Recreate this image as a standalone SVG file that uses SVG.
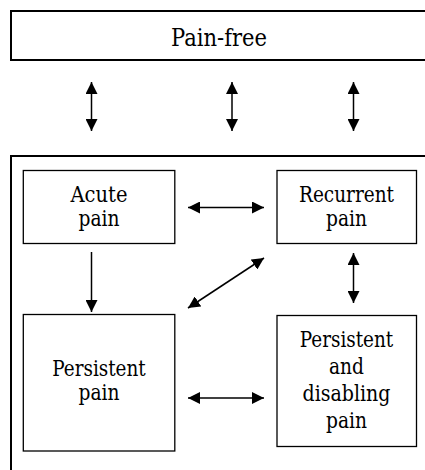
<svg xmlns="http://www.w3.org/2000/svg" width="425" height="470" viewBox="0 0 425 470">
<style>
.box{fill:#fff;stroke:#000;stroke-width:1.3}
.frame{fill:none;stroke:#000;stroke-width:2}
.t{font-family:'DejaVu Serif',serif;font-size:22px;fill:#000;text-anchor:middle}
.big{font-size:24px}
.c{stroke:#000;stroke-width:1.5;fill:none}
</style>
<defs>
<marker id="ah" markerUnits="userSpaceOnUse" markerWidth="12" markerHeight="12" refX="12" refY="6" orient="auto-start-reverse" viewBox="0 0 12 12">
<path d="M0,0 L12,6 L0,12 z" fill="#000"/>
</marker>
</defs>
<rect width="425" height="470" fill="#fff"/>
<g id="pain-free">
<rect class="frame" x="11" y="11" width="430" height="49"/>
<text class="t big" x="219" y="45.5" textLength="96" lengthAdjust="spacingAndGlyphs">Pain-free</text>
</g>
<g id="pain-states">
<rect class="frame" x="11" y="156" width="430" height="330"/>
</g>
<g id="acute">
<rect class="box" x="23.3" y="170.5" width="151.5" height="73"/>
<text class="t" x="99" y="201.5" textLength="57" lengthAdjust="spacingAndGlyphs">Acute</text>
<text class="t" x="99" y="225.5" textLength="41" lengthAdjust="spacingAndGlyphs">pain</text>
</g>
<g id="recurrent">
<rect class="box" x="277" y="170.5" width="139.5" height="73"/>
<text class="t" x="346.5" y="201.5" textLength="95" lengthAdjust="spacingAndGlyphs">Recurrent</text>
<text class="t" x="346.5" y="225.5" textLength="41" lengthAdjust="spacingAndGlyphs">pain</text>
</g>
<g id="persistent">
<rect class="box" x="23.3" y="314.5" width="151.5" height="136.5"/>
<text class="t" x="99" y="376" textLength="93.5" lengthAdjust="spacingAndGlyphs">Persistent</text>
<text class="t" x="99" y="400" textLength="41" lengthAdjust="spacingAndGlyphs">pain</text>
</g>
<g id="persistent-disabling">
<rect class="box" x="277" y="315.5" width="139.5" height="131"/>
<text class="t" x="346.5" y="347" textLength="93.5" lengthAdjust="spacingAndGlyphs">Persistent</text>
<text class="t" x="346.5" y="374" textLength="35" lengthAdjust="spacingAndGlyphs">and</text>
<text class="t" x="346.5" y="401" textLength="88" lengthAdjust="spacingAndGlyphs">disabling</text>
<text class="t" x="346.5" y="428" textLength="41" lengthAdjust="spacingAndGlyphs">pain</text>
</g>
<g id="connectors">
<line class="c" x1="91.5" y1="82" x2="91.5" y2="131" marker-start="url(#ah)" marker-end="url(#ah)"/>
<line class="c" x1="232" y1="82" x2="232" y2="131" marker-start="url(#ah)" marker-end="url(#ah)"/>
<line class="c" x1="353.5" y1="82" x2="353.5" y2="131" marker-start="url(#ah)" marker-end="url(#ah)"/>
<line class="c" x1="188" y1="207.5" x2="264" y2="207.5" marker-start="url(#ah)" marker-end="url(#ah)"/>
<line class="c" x1="91.5" y1="252" x2="91.5" y2="312" marker-end="url(#ah)"/>
<line class="c" x1="188" y1="308" x2="264" y2="258" marker-start="url(#ah)" marker-end="url(#ah)"/>
<line class="c" x1="353.5" y1="253" x2="353.5" y2="303" marker-start="url(#ah)" marker-end="url(#ah)"/>
<line class="c" x1="188" y1="398" x2="264" y2="398" marker-start="url(#ah)" marker-end="url(#ah)"/>
</g>
</svg>
